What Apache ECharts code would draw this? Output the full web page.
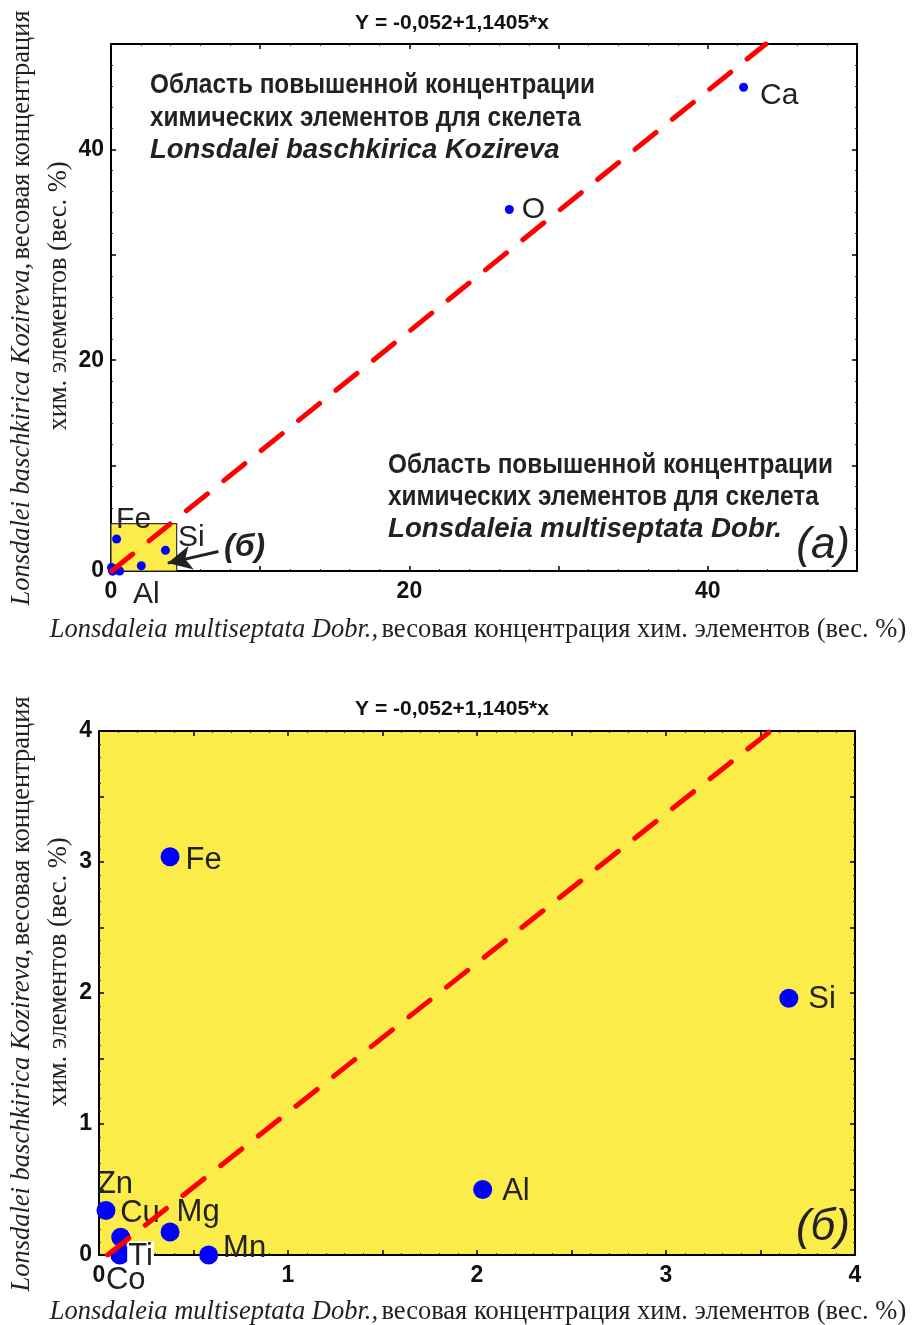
<!DOCTYPE html>
<html>
<head>
<meta charset="utf-8">
<script src="https://cdn.jsdelivr.net/npm/echarts@6/dist/echarts.min.js"></script>
<style>
html,body{margin:0;padding:0;background:#fff;}
#chart{width:917px;height:1325px;}
</style>
</head>
<body>
<div id="chart"></div>
<script>
// ---- data ----
const elements     = ['Ca',  'O',   'Fe',  'Si', 'Al', 'Zn',  'Cu',  'Mg',  'Mn', 'Ti', 'Co'];
const multiseptata = [42.4,  26.7,  0.376, 3.65, 2.03, 0.037, 0.115, 0.376, 0.58, 0.12, 0.11]; // x, вес. %
const baschkirica  = [45.9,  34.3,  3.04,  1.96, 0.50, 0.34,  0.135, 0.176, 0.0,  0.01, 0.0];  // y, вес. %
const regIntercept = -0.052;
const regSlope = 1.1405;
const ticksA = [0, 20, 40];
const ticksB = [0, 1, 2, 3, 4];
const titleText = 'Y = -0,052+1,1405*x';
const zoomBox = [[0, 0], [4.4, 4.5]];

// ---- styles ----
const SANS = "'Liberation Sans',Arial,sans-serif";
const SERIF = "'Liberation Serif','Times New Roman',serif";
const YELLOW = '#FCEC4A';
const TXT = '#222';

const labelA = {
  Ca: {position: 'right', distance: 12, offset: [0, 9]},
  O:  {position: 'right', distance: 8,  offset: [0, 0]},
  Fe: {position: 'top',   distance: 0,  offset: [17, 0]},
  Si: {position: 'right', distance: 8,  offset: [0, -13]},
  Al: {position: 'bottom',distance: 10, offset: [5, 0]}
};
const labelB = {
  Fe: {position: 'right', distance: 6, offset: [0, 4]},
  Si: {position: 'right', distance: 10, offset: [0, 1]},
  Al: {position: 'right', distance: 10, offset: [0, 2]},
  Zn: {position: 'top',   distance: 1, offset: [9, 0]},
  Cu: {position: 'right', distance: 0, offset: [-10, -24]},
  Mg: {position: 'right', distance: 6, offset: [-9, -19]},
  Mn: {position: 'right', distance: 10, offset: [-5, -7]},
  Ti: {position: 'right', distance: 6, offset: [-10, 3], backgroundColor: '#fff', padding: [0, 1]},
  Co: {position: 'bottom',distance: 4, offset: [6, -4]}
};

function pointsFor(maxV, labels, fontSize) {
  const out = [];
  elements.forEach((el, i) => {
    const x = multiseptata[i], y = baschkirica[i];
    if (x > maxV || y > maxV) return;
    const item = {name: el, value: [x, y]};
    if (labels[el]) {
      item.label = Object.assign({show: true, formatter: el, fontSize: fontSize,
        fontFamily: SANS, color: TXT}, labels[el]);
    } else {
      item.label = {show: false};
    }
    out.push(item);
  });
  return out;
}
function regLine(yMax) {
  const x0 = (0 - regIntercept) / regSlope;
  const x1 = (yMax - regIntercept) / regSlope;
  return [[x0, 0], [x1, yMax]];
}

function valAxis(gi, pos, max, interval, ticks, showLabel, isY) {
  return {
    type: 'value', gridIndex: gi, position: pos, min: 0, max: max, interval: interval,
    splitLine: {show: false},
    axisLine: {show: true, onZero: false, lineStyle: {color: '#000', width: 2}},
    axisTick: {show: true, inside: true, length: 5, lineStyle: {color: '#000', width: 1.5}},
    minorTick: {show: true, splitNumber: 5, length: 2, lineStyle: {color: '#333', width: 1}},
    axisLabel: {
      show: showLabel, margin: isY ? 7 : 9,
      fontFamily: SANS, fontWeight: 'bold', fontSize: 23, color: '#111',
      formatter: v => (ticks.indexOf(Math.round(v * 1000) / 1000) >= 0 ? String(Math.round(v)) : '')
    }
  };
}

const chart = echarts.init(document.getElementById('chart'), null, {renderer: 'canvas'});

const TS = 26.5;
const titleRich = {
  i: {fontFamily: SERIF, fontStyle: 'italic', fontSize: TS, fill: TXT, color: TXT},
  n: {fontFamily: SERIF, fontSize: TS, fill: TXT, color: TXT}
};
function xTitle(y) {
  return {type: 'text', x: 478, y: y, z: 10,
    style: {text: '{i|Lonsdaleia multiseptata Dobr.,} {n|весовая концентрация хим. элементов (вес. %)}',
      rich: titleRich, textAlign: 'center', textVerticalAlign: 'middle', verticalAlign: 'middle', align: 'center'}};
}
function yTitle(cy1, cy2) {
  return [
    {type: 'text', x: 22, y: cy1, rotation: Math.PI / 2, z: 10,
      style: {text: '{i|Lonsdalei baschkirica Kozireva,} {n|весовая концентрация}', rich: titleRich,
        textAlign: 'center', textVerticalAlign: 'middle', verticalAlign: 'middle', align: 'center'}},
    {type: 'text', x: 59, y: cy2, rotation: Math.PI / 2, z: 10,
      style: {text: 'хим. элементов (вес. %)', fontFamily: SERIF, fontSize: TS, fill: TXT,
        textAlign: 'center', textVerticalAlign: 'middle', verticalAlign: 'middle', align: 'center'}}
  ];
}
function plain(text, x, y, font, align, sx) {
  return {type: 'text', x: x, y: y, z: 10, scaleX: sx || 1,
    style: {text: text, font: font, fill: TXT, textAlign: align || 'left', textVerticalAlign: 'middle',
      align: align || 'left', verticalAlign: 'middle'}};
}

const option = {
  animation: false,
  backgroundColor: '#fff',
  title: [
    {text: titleText, left: 447, top: 8, textAlign: 'center',
      textStyle: {fontFamily: SANS, fontWeight: 'bold', fontSize: 21, color: '#111'}},
    {text: titleText, left: 447, top: 694, textAlign: 'center',
      textStyle: {fontFamily: SANS, fontWeight: 'bold', fontSize: 21, color: '#111'}}
  ],
  grid: [
    {left: 111, top: 44, right: 60, bottom: 754, show: true, backgroundColor: '#fff', borderWidth: 0},
    {left: 99, top: 731, right: 62, bottom: 70, show: true, backgroundColor: YELLOW, borderWidth: 0}
  ],
  xAxis: [
    valAxis(0, 'bottom', 50, 10, ticksA, true, false),
    valAxis(0, 'top', 50, 10, ticksA, false, false),
    valAxis(1, 'bottom', 4, 0.5, ticksB, true, false),
    valAxis(1, 'top', 4, 0.5, ticksB, false, false)
  ],
  yAxis: [
    valAxis(0, 'left', 50, 10, ticksA, true, true),
    valAxis(0, 'right', 50, 10, ticksA, false, true),
    valAxis(1, 'left', 4, 0.5, ticksB, true, true),
    valAxis(1, 'right', 4, 0.5, ticksB, false, true)
  ],
  series: [
    {
      type: 'scatter', xAxisIndex: 0, yAxisIndex: 0, symbol: 'circle', symbolSize: 9,
      itemStyle: {color: '#0000FF', opacity: 1}, z: 3,
      data: pointsFor(50, labelA, 30),
      markArea: {
        silent: true,
        itemStyle: {color: YELLOW, borderColor: '#333', borderWidth: 1.2},
        data: [[{coord: zoomBox[0]}, {coord: zoomBox[1]}]]
      },
      markLine: {
        silent: true, symbol: ['none', 'arrow'], symbolSize: [18, 24],
        lineStyle: {color: '#222', width: 3, type: 'solid'}, label: {show: false},
        data: [[{coord: [7.2, 1.85]}, {coord: [3.8, 0.75]}]]
      }
    },
    {
      type: 'line', xAxisIndex: 0, yAxisIndex: 0, data: regLine(50), symbol: 'none', z: 4,
      lineStyle: {color: '#FF0000', width: 5, type: [27, 21], cap: 'round'}
    },
    {
      type: 'scatter', xAxisIndex: 2, yAxisIndex: 2, symbol: 'circle', symbolSize: 19,
      itemStyle: {color: '#0000FF', opacity: 1}, z: 3,
      data: pointsFor(4, labelB, 31)
    },
    {
      type: 'line', xAxisIndex: 2, yAxisIndex: 2, data: regLine(4), symbol: 'none', z: 4,
      lineStyle: {color: '#FF0000', width: 5, type: [27, 21], cap: 'round'}
    }
  ],
  graphic: [
    plain('Область повышенной концентрации', 150, 85, 'bold 28px ' + SANS, 'left', 0.87),
    plain('химических элементов для скелета', 150, 118, 'bold 28px ' + SANS, 'left', 0.87),
    plain('Lonsdalei baschkirica Kozireva', 150, 150, 'italic bold 27.5px ' + SANS),
    plain('Область повышенной концентрации', 388, 465, 'bold 28px ' + SANS, 'left', 0.87),
    plain('химических элементов для скелета', 388, 497, 'bold 28px ' + SANS, 'left', 0.87),
    plain('Lonsdaleia multiseptata Dobr.', 388, 529, 'italic bold 27.7px ' + SANS),
    plain('(а)', 850, 546, 'italic 44px ' + SANS, 'right'),
    plain('(б)', 224, 547, 'italic bold 32px ' + SANS),
    plain('(б)', 850, 1228, 'italic 44px ' + SANS, 'right'),
    xTitle(630),
    xTitle(1312)
  ].concat(yTitle(308, 296)).concat(yTitle(994, 972))
};
chart.setOption(option);
</script>
</body>
</html>
